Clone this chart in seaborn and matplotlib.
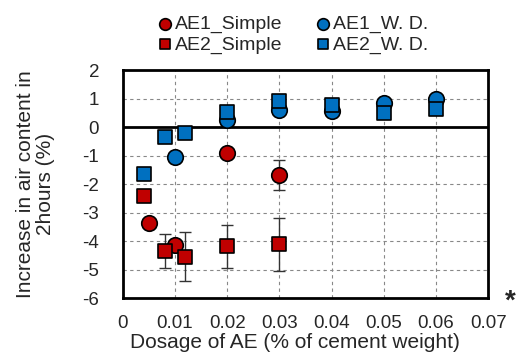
import matplotlib
matplotlib.use("Agg")
import matplotlib.pyplot as plt
import seaborn as sns
import pandas as pd
import numpy as np

# Data
ae1_simple_x = [0.005, 0.010, 0.020, 0.030]
ae1_simple_y = [-3.35, -4.15, -0.90, -1.68]
ae1_simple_err = [0.0, 0.0, 0.0, 0.52]

ae2_simple_x = [0.004, 0.008, 0.012, 0.020, 0.030]
ae2_simple_y = [-2.42, -4.34, -4.55, -4.18, -4.12]
ae2_simple_err = [0.0, 0.60, 0.85, 0.76, 0.94]

ae1_wd_x = [0.010, 0.020, 0.030, 0.040, 0.050, 0.060]
ae1_wd_y = [-1.04, 0.25, 0.60, 0.57, 0.83, 0.97]

ae2_wd_x = [0.004, 0.008, 0.012, 0.020, 0.030, 0.040, 0.050, 0.060]
ae2_wd_y = [-1.65, -0.34, -0.20, 0.54, 0.92, 0.77, 0.48, 0.62]

x_ticks = [0, 0.01, 0.02, 0.03, 0.04, 0.05, 0.06, 0.07]
x_tick_labels = ["0", "0.01", "0.02", "0.03", "0.04", "0.05", "0.06", "0.07"]
y_ticks = [-6, -5, -4, -3, -2, -1, 0, 1, 2]

RED = "#C00000"
BLUE = "#0070C0"

sns.set_style("white")
plt.rcParams["font.family"] = ["Liberation Sans", "DejaVu Sans"]
plt.rcParams["axes.unicode_minus"] = False

fig = plt.figure(figsize=(5.16, 3.63), dpi=100)
ax = fig.add_axes([0.238, 0.179, 0.708, 0.628])

df = pd.concat([
    pd.DataFrame({"x": ae1_simple_x, "y": ae1_simple_y, "s": "AE1_Simple"}),
    pd.DataFrame({"x": ae1_wd_x, "y": ae1_wd_y, "s": "AE1_W. D."}),
    pd.DataFrame({"x": ae2_simple_x, "y": ae2_simple_y, "s": "AE2_Simple"}),
    pd.DataFrame({"x": ae2_wd_x, "y": ae2_wd_y, "s": "AE2_W. D."}),
], ignore_index=True)

# error bars
ax.errorbar(ae1_simple_x, ae1_simple_y, yerr=ae1_simple_err, fmt="none",
            ecolor="#333333", elinewidth=1, capsize=4, capthick=1, zorder=2)
ax.errorbar(ae2_simple_x, ae2_simple_y, yerr=ae2_simple_err, fmt="none",
            ecolor="#333333", elinewidth=1, capsize=4, capthick=1, zorder=2)

styles = {
    "AE1_Simple": ("o", RED, 125, 3),
    "AE1_W. D.": ("o", BLUE, 125, 3),
    "AE2_Simple": ("s", RED, 110, 4),
    "AE2_W. D.": ("s", BLUE, 110, 4),
}
for name, (m, c, s, z) in styles.items():
    sub = df[df["s"] == name]
    sns.scatterplot(data=sub, x="x", y="y", marker=m, color=c, s=s,
                    edgecolor="black", linewidth=1.2, ax=ax, zorder=z,
                    label=name, legend=True)

ax.set_xlim(0, 0.07)
ax.set_ylim(-6, 2)
ax.set_xticks(x_ticks)
ax.set_xticklabels(x_tick_labels)
ax.set_yticks(y_ticks)
ax.tick_params(axis="x", labelsize=13.5, length=0, pad=12)
ax.tick_params(axis="y", labelsize=13.5, length=0, pad=17)
ax.grid(True, linestyle=(0, (3, 3)), color="#888888", linewidth=0.8)
ax.axhline(0, color="black", linewidth=2, zorder=1.5)
for sp in ax.spines.values():
    sp.set_color("black")
    sp.set_linewidth(2)

ax.set_xlabel("Dosage of AE (% of cement weight)", fontsize=15)
ax.xaxis.set_label_coords(0.47, -0.152)
ax.xaxis.label.set_va("top")
ax.set_ylabel("Increase in air content in\n2hours (%)", fontsize=15, labelpad=20,
              linespacing=1.05)

handles, labels = ax.get_legend_handles_labels()
order = ["AE1_Simple", "AE2_Simple", "AE1_W. D.", "AE2_W. D."]
hmap = dict(zip(labels, handles))
ax.legend([hmap[k] for k in order], order, ncol=2, frameon=False,
          loc="center", bbox_to_anchor=(0.565, 0.905), bbox_transform=fig.transFigure,
          fontsize=14, handletextpad=0.0, columnspacing=1.6, labelspacing=0.15,
          markerscale=0.75, handlelength=1.0, borderpad=0)

fig.text(0.988, 0.168, "*", fontsize=20, ha="center", va="center", fontweight="bold")

fig.savefig("out.png", dpi=100)
